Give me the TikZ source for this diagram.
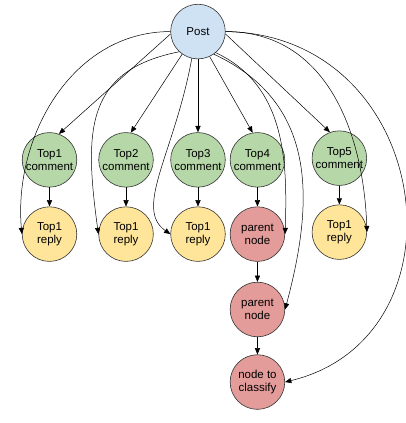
\documentclass[tikz,border=0pt]{standalone}
\usepackage{fontspec}
\setmainfont{Liberation Sans}
\usetikzlibrary{arrows.meta}
\definecolor{postfill}{HTML}{CFE2F3}
\definecolor{commentfill}{HTML}{B6D7A8}
\definecolor{replyfill}{HTML}{FFE599}
\definecolor{chainfill}{HTML}{E49C9A}
\definecolor{darkline}{HTML}{333333}
\tikzset{
  vertex/.style={circle, draw=darkline, line width=0.6pt, minimum size=1.92cm, inner sep=0pt, align=center, font=\fontsize{11.5}{13.5}\selectfont},
  post/.style={vertex, fill=postfill},
  comment/.style={vertex, fill=commentfill},
  reply/.style={vertex, fill=replyfill},
  chain/.style={vertex, fill=chainfill},
  flow/.style={-{Triangle[length=2.2mm, width=1.8mm]}, line width=0.5pt, draw=black}
}

\begin{document}
\begin{tikzpicture}

\useasboundingbox (0,0) rectangle (14.27,14.87);

\node[post] (post) at (6.96, 13.76) {Post};

\node[comment] (c1) at (1.74, 9.25) {Top1\\comment};
\node[comment] (c2) at (4.43, 9.25) {Top2\\comment};
\node[comment] (c3) at (6.96, 9.25) {Top3\\comment};
\node[comment] (c4) at (9.05, 9.25) {Top4\\comment};
\node[comment] (c5) at (11.93, 9.31) {Top5\\comment};

\node[reply] (r1) at (1.74, 6.64) {Top1\\reply};
\node[reply] (r2) at (4.43, 6.64) {Top1\\reply};
\node[reply] (r3) at (6.96, 6.64) {Top1\\reply};
\node[chain] (p1) at (9.05, 6.64) {parent\\node};
\node[reply] (r5) at (11.93, 6.71) {Top1\\reply};

\node[chain] (p2) at (9.05, 3.99) {parent\\node};
\node[chain] (target) at (9.05, 1.44) {node to\\classify};

% post to comments
\draw[flow] (post.185) -- (c1.70);
\draw[flow] (post.235) -- (c2.80);
\draw[flow] (post) -- (c3);
\draw[flow] (post.295) -- (c4.100);
\draw[flow] (post.355) -- (c5.110);

% comments to replies
\foreach \i in {1,2,3,5}
  \draw[flow] (c\i) -- (r\i);
\draw[flow] (c4) -- (p1);
\draw[flow] (p1) -- (p2);
\draw[flow] (p2) -- (target);

% post to replies and chain
\draw[flow] (post.west) to[out=180, in=95] (r1.west);
\draw[flow] (post.227) .. controls +(-3.3,-0.66) and +(-0.5,3.66) .. (r2.west);
\draw[flow] (post.257) .. controls +(-0.6,-3.3) and +(-1.3,0.9) .. (r3.west);
\draw[flow] (post.310) to[out=-25, in=88] (p1.east);
\draw[flow] (post.305) to[out=-25, in=75, looseness=1.1] (p2.east);
\draw[flow] (post.east) to[out=0, in=92, looseness=1.05] (r5.east);
\draw[flow] (post.east) .. controls +(7.3,-0.1) and +(6.6,1.6) .. (target.east);

\end{tikzpicture}
\end{document}
